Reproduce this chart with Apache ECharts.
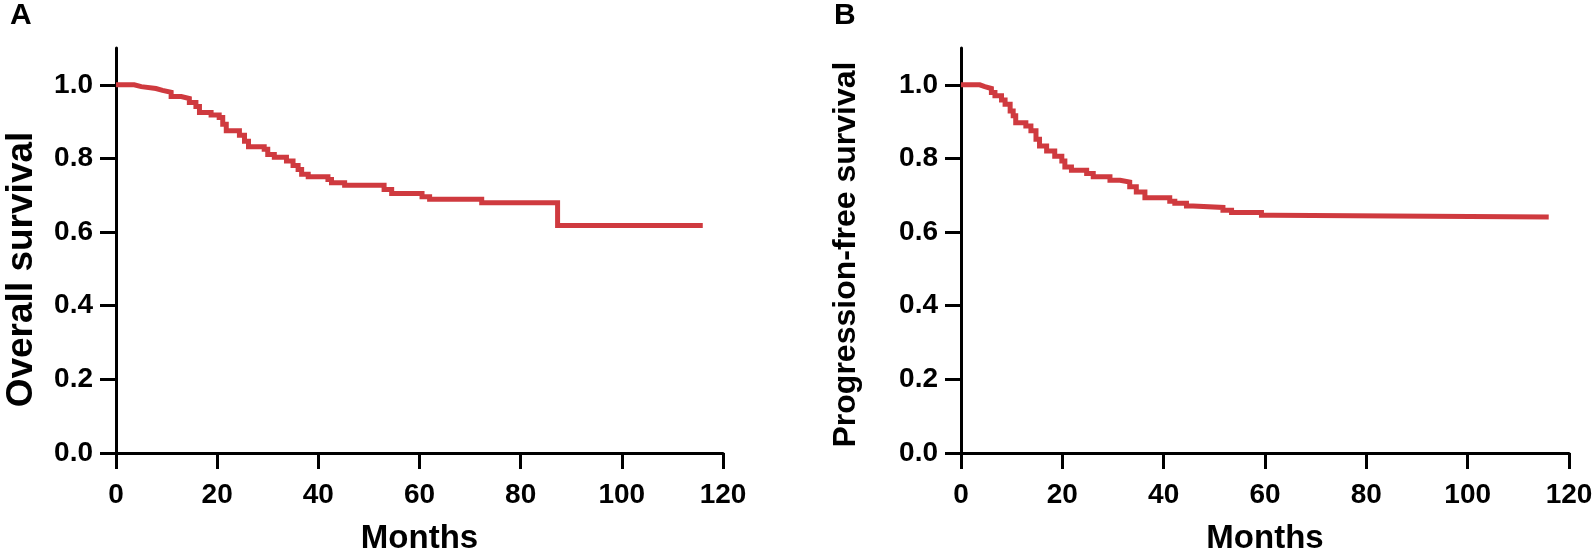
<!DOCTYPE html>
<html>
<head>
<meta charset="utf-8">
<script src="https://cdn.jsdelivr.net/npm/echarts@6/dist/echarts.min.js"></script>
<style>
  html, body { margin: 0; padding: 0; background: #fff; }
  #chart { width: 1594px; height: 558px; }
</style>
</head>
<body>
<div id="chart"></div>
<script>
// Kaplan-Meier steps (months, survival)
var osMonths = [0, 3.6, 5, 7.9, 9.2, 10.9, 12.9, 14.5, 15.8, 16.5, 18.8, 20.4, 21.1, 21.8, 24.4, 25.4, 26.2,
    29.3, 30, 31.3, 33.7, 35, 36, 36.7, 38, 41.9, 42.6, 45.2, 53, 54.5, 60.5, 62, 72.3, 87.3, 116];
var osSurvival = [1.0, 0.995, 0.99, 0.985, 0.98, 0.968, 0.963, 0.952, 0.941, 0.925, 0.918, 0.911, 0.893, 0.875, 0.863, 0.847, 0.832,
    0.825, 0.811, 0.803, 0.793, 0.781, 0.770, 0.757, 0.750, 0.743, 0.734, 0.727, 0.716, 0.705, 0.696, 0.689, 0.680, 0.618, 0.618];

var pfsMonths = [0, 3.7, 4.7, 6, 6.7, 8, 8.7, 9.7, 10.3, 10.8, 12.8, 13.8, 14.8, 15.5, 16.9, 18.5, 19.9, 20.5, 21.8,
    24.8, 26.1, 29.4, 31.4, 33.3, 34.6, 36.3, 41.2, 42.2, 44.5, 45.8, 51.7, 53.4, 59.3, 61.6, 116];
var pfsSurvival = [1.0, 0.995, 0.99, 0.979, 0.97, 0.959, 0.947, 0.929, 0.916, 0.897, 0.888, 0.875, 0.852, 0.834, 0.82, 0.806, 0.793, 0.777, 0.768,
    0.759, 0.750, 0.741, 0.736, 0.723, 0.709, 0.693, 0.684, 0.678, 0.671, 0.667, 0.659, 0.653, 0.646, 0.641, 0.641];

var yTicks = [0, 0.2, 0.4, 0.6, 0.8, 1.0];
var panelLetters = ['A', 'B'];
var yTitles = ['Overall survival', 'Progression-free survival'];
var xTitle = 'Months';

var font = 'Liberation Sans, Arial, sans-serif';
var red = '#cf3a3f';

function pairs(xs, ys) {
    return xs.map(function (x, i) { return [x, ys[i]]; });
}

function xAxis(idx) {
    return {
        gridIndex: idx, type: 'value', min: 0, max: 120, interval: 20,
        name: xTitle, nameLocation: 'middle', nameGap: 69,
        nameTextStyle: { fontFamily: font, fontWeight: 'bold', fontSize: 33, color: '#000' },
        axisLine: { lineStyle: { color: '#000', width: 3 } },
        axisTick: { inside: false, length: 16, lineStyle: { color: '#000', width: 3 } },
        axisLabel: { margin: 28, fontFamily: font, fontWeight: 'bold', fontSize: 28, color: '#000' },
        splitLine: { show: false }
    };
}

function yAxis(idx, gap, size, pad) {
    return {
        gridIndex: idx, type: 'value', min: 0, max: 1.1,
        name: yTitles[idx], nameLocation: 'middle', nameGap: gap,
        nameTextStyle: { fontFamily: font, fontWeight: 'bold', fontSize: size, color: '#000', padding: pad },
        axisLine: { lineStyle: { color: '#000', width: 3 } },
        axisTick: { inside: false, length: 16, customValues: yTicks, lineStyle: { color: '#000', width: 3 } },
        axisLabel: {
            margin: 23, customValues: yTicks, fontFamily: font, fontWeight: 'bold', fontSize: 28, color: '#000',
            formatter: function (v) { return v.toFixed(1); }
        },
        splitLine: { show: false }
    };
}

var chart = echarts.init(document.getElementById('chart'));
chart.setOption({
    animation: false,
    title: [
        { text: panelLetters[0], left: 10, top: 1, padding: 0, textStyle: { fontFamily: font, fontWeight: 'bold', fontSize: 30, color: '#000' } },
        { text: panelLetters[1], left: 834, top: 1, padding: 0, textStyle: { fontFamily: font, fontWeight: 'bold', fontSize: 30, color: '#000' } }
    ],
    grid: [
        { left: 116, top: 48, width: 607, height: 405, outerBoundsMode: 'none' },
        { left: 961, top: 48, width: 608, height: 405, outerBoundsMode: 'none' }
    ],
    xAxis: [xAxis(0), xAxis(1)],
    yAxis: [yAxis(0, 76, 37, [0, 38, 0, 0]), yAxis(1, 99, 32, [0, 8, 0, 0])],
    series: [
        {
            type: 'line', xAxisIndex: 0, yAxisIndex: 0, step: 'end', symbol: 'none',
            lineStyle: { color: red, width: 5, join: 'miter' },
            data: pairs(osMonths, osSurvival)
        },
        {
            type: 'line', xAxisIndex: 1, yAxisIndex: 1, step: 'end', symbol: 'none',
            lineStyle: { color: red, width: 5, join: 'miter' },
            data: pairs(pfsMonths, pfsSurvival)
        }
    ]
});
</script>
</body>
</html>
